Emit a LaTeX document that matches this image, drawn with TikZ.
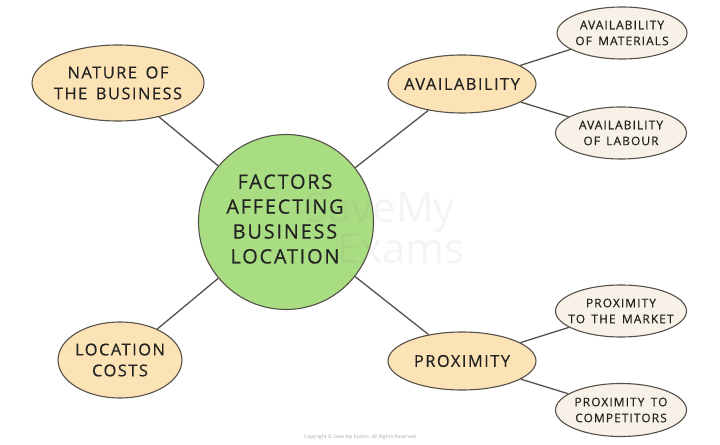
\documentclass[tikz,border=0pt]{standalone}
\usepackage{fontspec}
\setmainfont{Open Sans}[LetterSpace=9, WordSpace=1.5, FakeBold=0.35]
\newfontfamily\plainfont{Open Sans}
\usetikzlibrary{shapes.geometric}
\definecolor{peach}{HTML}{FCE3B6}
\definecolor{cream}{HTML}{F7F1E7}
\definecolor{leaf}{HTML}{A9DD82}
\definecolor{edge}{HTML}{555049}
\definecolor{ink}{HTML}{222222}
\tikzset{
  bubble/.style={ellipse, draw=edge, line width=1.1bp, inner sep=0pt},
  main/.style={bubble, fill=peach},
  sub/.style={bubble, fill=cream},
  hub/.style={circle, draw=edge, line width=1.1bp, fill=leaf, inner sep=0pt, minimum size=175bp},
  bigtxt/.style={text=ink, align=center, font=\fontsize{20}{25}\selectfont},
  midtxt/.style={text=ink, align=center, font=\fontsize{16.5}{21}\selectfont},
  smalltxt/.style={text=ink, align=center, font=\fontsize{12}{16}\selectfont},
  link/.style={draw=edge, line width=1.3bp},
}
\begin{document}
\begin{tikzpicture}[x=1bp,y=-1bp]
\useasboundingbox (0,0) rectangle (720,445);
\fill[white] (0,0) rectangle (720,445);
% nodes
\node[hub] (hub) at (286,222) {};
\node[main, minimum width=172bp, minimum height=76bp] (nature) at (118,83) {};
\node[main, minimum width=124bp, minimum height=76bp] (costs) at (120,360) {};
\node[main, minimum width=148bp, minimum height=58bp] (avail) at (462,84) {};
\node[main, minimum width=148bp, minimum height=58bp] (prox) at (462,361) {};
\node[sub, minimum width=130bp, minimum height=52bp] (mat) at (622,33) {};
\node[sub, minimum width=131bp, minimum height=52bp] (lab) at (621,133) {};
\node[sub, minimum width=131bp, minimum height=52bp] (mkt) at (621,311) {};
\node[sub, minimum width=131bp, minimum height=53bp] (comp) at (621,410) {};
% connectors
\draw[link] (hub) -- (nature);
\draw[link] (hub) -- (costs);
\draw[link] (hub) -- (avail);
\draw[link] (hub) -- (prox);
\draw[link] (avail) -- (mat);
\draw[link] (avail) -- (lab);
\draw[link] (prox) -- (mkt);
\draw[link] (prox) -- (comp);
% watermark
\node[text=black!45, opacity=0.09, font=\plainfont\fontsize{42}{42}\selectfont, align=left, anchor=west] (wm) at (302,228) {SaveMy\\\hspace{32bp}Exams};
% texts
\node[bigtxt] (thub) at (285,219) {FACTORS\\AFFECTING\\BUSINESS\\LOCATION};
\node[midtxt] (tnature) at (nature) {NATURE OF\\THE BUSINESS};
\node[midtxt] (tcosts) at (costs) {LOCATION\\COSTS};
\node[midtxt] (tavail) at (avail) {AVAILABILITY};
\node[midtxt] (tprox) at (prox) {PROXIMITY};
\node[smalltxt] (tmat) at (mat) {AVAILABILITY\\OF MATERIALS};
\node[smalltxt] (tlab) at (lab) {AVAILABILITY\\OF LABOUR};
\node[smalltxt] (tmkt) at (mkt) {PROXIMITY\\TO THE MARKET};
\node[smalltxt] (tcomp) at (comp) {PROXIMITY TO\\COMPETITORS};
% copyright
\node[text=black!35, font=\plainfont\fontsize{5}{6}\selectfont] (copy) at (360,437) {Copyright \textcopyright{} Save My Exams. All Rights Reserved};
\end{tikzpicture}
\end{document}
